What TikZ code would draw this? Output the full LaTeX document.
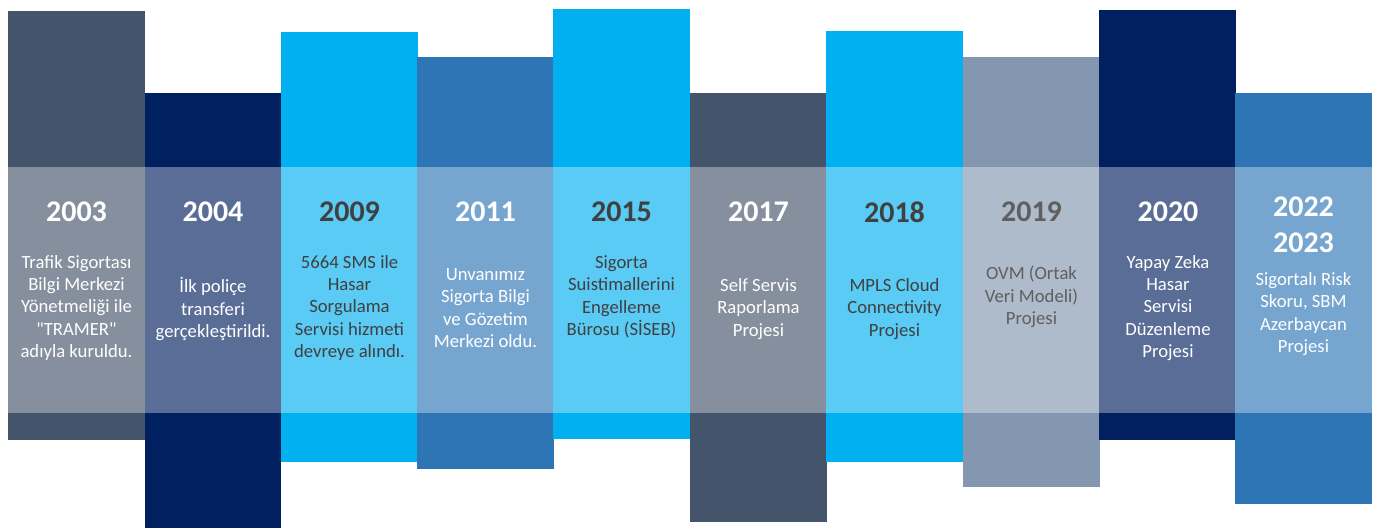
\documentclass[tikz,border=0pt]{standalone}
\usepackage{fontspec}
\setmainfont{Carlito}[Ligatures=TeXOff]
\usepackage{tikz}
\usetikzlibrary{positioning}
\definecolor{tlslate}{RGB}{68,84,106}
\definecolor{tlnavy}{RGB}{0,32,96}
\definecolor{tlcyan}{RGB}{0,176,240}
\definecolor{tlblue}{RGB}{46,117,182}
\definecolor{tlgrey}{RGB}{132,151,176}
\definecolor{tldark}{RGB}{64,64,64}
\definecolor{tlmid}{RGB}{95,95,95}
\tikzstyle{year} = [font=\fontsize{22.5}{27}\selectfont\bfseries, inner sep=0pt, align=center]
\tikzstyle{event} = [font=\fontsize{14}{16.7}\selectfont, inner sep=0pt, align=center]
\tikzstyle{band} = [fill=white, fill opacity=0.35]

\begin{document}
\begin{tikzpicture}[x=0.75pt, y=-0.75pt]
\useasboundingbox (0,0) rectangle (1379,528);

% bars
\fill[tlslate] (8,11) rectangle (145,440);
\fill[tlnavy] (145,93) rectangle (281,528);
\fill[tlcyan] (281,32) rectangle (418,462);
\fill[tlblue] (417,57) rectangle (554,469);
\fill[tlcyan] (553,9) rectangle (690,439);
\fill[tlslate] (690,93) rectangle (827,522);
\fill[tlcyan] (826,31) rectangle (963,462);
\fill[tlgrey] (963,57) rectangle (1100,487);
\fill[tlnavy] (1099,10) rectangle (1236,440);
\fill[tlblue] (1235,93) rectangle (1372,504);

% light band
\fill[band] (8,167) rectangle (1372,413);

% years and events
\node (y2003) [year, text=white] at (76.5,212) {2003};
\node (e2003) [event, text=white] at (76.5,308) {Trafik Sigortası\\Bilgi Merkezi\\Yönetmeliği ile\\"TRAMER"\\adıyla kuruldu.};

\node (y2004) [year, text=white] at (213,212) {2004};
\node (e2004) [event, text=white] at (213,309) {İlk poliçe\\transferi\\gerçekleştirildi.};

\node (y2009) [year, text=tldark] at (349.5,212) {2009};
\node (e2009) [event, text=tldark] at (349.5,308) {5664 SMS ile\\Hasar\\Sorgulama\\Servisi hizmeti\\devreye alındı.};

\node (y2011) [year, text=white] at (485.5,212) {2011};
\node (e2011) [event, text=white] at (485.5,308) {Unvanımız\\Sigorta Bilgi\\ve Gözetim\\Merkezi oldu.};

\node (y2015) [year, text=tldark] at (621.5,212) {2015};
\node (e2015) [event, text=tldark] at (621.5,297) {Sigorta\\Suistimallerini\\Engelleme\\Bürosu (SİSEB)};

\node (y2017) [year, text=white] at (758.5,212) {2017};
\node (e2017) [event, text=white] at (758.5,309) {Self Servis\\Raporlama\\Projesi};

\node (y2018) [year, text=tldark] at (894.5,212) {2018};
\node (e2018) [event, text=tldark] at (894.5,309) {MPLS Cloud\\Connectivity\\Projesi};

\node (y2019) [year, text=tlmid] at (1031.5,212) {2019};
\node (e2019) [event, text=tlmid] at (1031.5,297) {OVM (Ortak\\Veri Modeli)\\Projesi};

\node (y2020) [year, text=white] at (1168,212) {2020};
\node (e2020) [event, text=white] at (1168,308) {Yapay Zeka\\Hasar\\Servisi\\Düzenleme\\Projesi};

\node (y2022) [year, text=white] at (1303.5,224.5) {2022\\2023};
\node (e2022) [event, text=white] at (1303.5,314) {Sigortalı Risk\\Skoru, SBM\\Azerbaycan\\Projesi};
\end{tikzpicture}
\end{document}
